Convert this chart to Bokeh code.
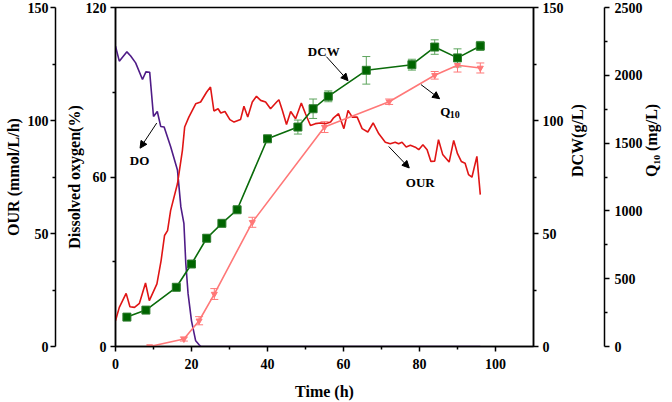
import math

from bokeh.plotting import figure
from bokeh.models import (Range1d, LinearAxis, FixedTicker, Arrow, NormalHead,
                          Label, Whisker, ColumnDataSource, TeeHead)
from bokeh.embed import file_html
from bokeh.resources import INLINE

# Oxygen uptake rate (mmol/L/h)
our_t = [0, 1.0, 2.8, 3.8, 5.0, 6.3, 7.9, 8.9, 10.9, 12.0, 12.9, 13.7, 14.5, 16.3,
         17.6, 18.2, 19.3, 21.1, 22.4, 24.0, 25.0, 25.9, 27.0, 27.7, 28.8, 30.1,
         31.2, 32.9, 33.8, 34.8, 36.0, 37.1, 38.2, 39.5, 40.8, 42.4, 43.0, 43.9,
         45.0, 46.1, 47.4, 48.9, 50.0, 51.3, 52.6, 53.9, 55.3, 56.6, 57.4, 58.7,
         60.1, 61.2, 62.3, 63.6, 64.9, 66.4, 67.8, 69.3, 71.0, 72.3, 73.6, 74.5,
         75.4, 76.5, 77.6, 78.9, 79.8, 80.9, 82.0, 83.0, 84.0, 85.0, 86.1, 87.8,
         89.0, 90.0, 91.0, 92.0, 92.9, 93.8, 95.1, 96.0]
our_v = [11.4, 17.3, 23.5, 17.6, 17.3, 19.1, 28.1, 20.3, 27.7, 38.0, 49.1, 51.3, 60.1, 72.0,
         86.7, 97.1, 101.5, 107.4, 108.2, 112.6, 114.8, 104.2, 105.2, 103.3, 104.0, 100.4,
         99.3, 100.4, 106.3, 101.5, 108.2, 110.7, 108.9, 108.2, 105.2, 108.2, 109.2, 104.5,
         98.2, 104.0, 100.8, 107.7, 103.0, 97.8, 98.6, 98.9, 98.6, 99.3, 101.2, 103.0,
         96.4, 104.5, 101.5, 101.5, 96.4, 94.9, 98.9, 94.1, 90.4, 89.7, 90.4, 89.7,
         90.4, 88.3, 89.0, 88.2, 87.1, 89.3, 87.1, 81.9, 82.0, 91.5, 85.0, 81.6,
         91.2, 85.3, 81.9, 81.1, 76.1, 74.9, 84.1, 67.2]

# Dissolved oxygen (%)
do_t = [0, 1.0, 3.0, 4.0, 5.3, 7.1, 8.0, 9.0, 10.0, 11.0, 11.9, 12.8, 14.5, 16.3,
        17.2, 18.0, 18.5, 19.1, 20.0, 21.1, 22.0, 22.5, 96.0]
do_v = [106.3, 101.0, 104.3, 102.8, 100.4, 94.5, 97.2, 97.1, 81.4, 83.2, 77.9, 77.7,
        70.8, 62.5, 49.4, 43.6, 29.4, 18.7, 9.1, 2.0, 0.6, 0.0, 0.0]

# Dry cell weight (g/L)
dcw_t = [3, 8, 16, 20, 24, 28, 32, 40, 48, 52, 56, 66, 78, 84, 90, 96]
dcw_v = [13.0, 16.1, 26.2, 36.5, 47.9, 54.5, 60.5, 91.9, 97.1, 105.2, 110.7, 122.2,
         124.7, 132.5, 127.7, 133.0]
dcw_err = [0.8, 0.8, 0.8, 0.8, 1.5, 1.0, 1.0, 1.0, 3.1, 4.3, 2.4, 6.1, 2.4, 3.2, 4.0, 2.0]

# Q10 titre (mg/L)
q_t = [9, 18, 22, 26, 36, 55, 72, 84, 90, 96]
q_v = [0, 55, 190, 387, 916, 1618, 1805, 2000, 2074, 2054]
q_err = [0, 15, 30, 40, 37, 40, 20, 28, 50, 37]

FONT = "Liberation Serif"
TICK_SIZE = "14px"
TITLE_SIZE = "16px"

C_OUR = "#E01515"
C_DO = "#4F1C87"
C_DCW = "#0A6B0A"
C_Q10 = "#FF7878"

p = figure(width=672, height=402, output_backend="svg", toolbar_location=None,
           x_range=Range1d(0, 110), y_range=Range1d(0, 120),
           min_border_left=115, min_border_right=139, min_border_top=7,
           min_border_bottom=56)
p.extra_y_ranges = {"our": Range1d(0, 150), "dcw": Range1d(0, 150),
                    "q10": Range1d(0, 2500)}
p.xgrid.visible = False
p.ygrid.visible = False
p.outline_line_color = "black"
p.outline_line_width = 1.5
p.background_fill_color = "white"
p.border_fill_color = "white"


def style(ax, ticks, minor, label, lab_stand, title_stand):
    ax.ticker = FixedTicker(ticks=ticks, minor_ticks=minor)
    ax.axis_label = label
    ax.axis_line_width = 1.5
    ax.axis_line_color = "black"
    ax.major_tick_line_width = 1.5
    ax.minor_tick_line_width = 1.5
    ax.major_tick_out = 5
    ax.major_tick_in = 0
    ax.minor_tick_out = 3
    ax.minor_tick_in = 0
    ax.major_label_text_font = FONT
    ax.major_label_text_font_style = "bold"
    ax.major_label_text_font_size = TICK_SIZE
    ax.major_label_text_color = "black"
    ax.major_label_standoff = lab_stand
    ax.axis_label_text_font = FONT
    ax.axis_label_text_font_style = "bold"
    ax.axis_label_text_font_size = TITLE_SIZE
    ax.axis_label_text_color = "black"
    ax.axis_label_standoff = title_stand


def spacer(rng, width):
    return LinearAxis(y_range_name=rng, ticker=FixedTicker(ticks=[]),
                      axis_line_color=None, major_tick_out=0, major_tick_in=0,
                      minor_tick_out=0, minor_tick_in=0, major_label_standoff=0,
                      major_label_text_font_size="1px", axis_label=" ",
                      axis_label_text_font_size="1px", axis_label_standoff=width)


# x axis
style(p.xaxis[0], [0, 20, 40, 60, 80, 100], [10, 30, 50, 70, 90], "Time (h)", 7, 11)

# inner left: dissolved oxygen
style(p.yaxis[0], [0, 60, 120], [30, 90], "Dissolved oxygen(%)", 4, 0)

# outer left: OUR
p.add_layout(spacer("our", 3), "left")
our_ax = LinearAxis(y_range_name="our")
style(our_ax, [0, 50, 100, 150], [25, 75, 125], "OUR (mmol/L/h)", 2, 3)
p.add_layout(our_ax, "left")

# inner right: DCW
dcw_ax = LinearAxis(y_range_name="dcw")
style(dcw_ax, [0, 50, 100, 150], [25, 75, 125], "DCW(g/L)", 4, 11)
dcw_ax.axis_label_orientation = math.pi / 2
p.add_layout(dcw_ax, "right")
p.add_layout(spacer("dcw", 3), "right")

# outer right: Q10
q_ax = LinearAxis(y_range_name="q10")
style(q_ax, [0, 500, 1000, 1500, 2000, 2500],
      [250, 750, 1250, 1750, 2250], "Q\u2081\u2080 (mg/L)", 5, 6)
q_ax.axis_label_orientation = math.pi / 2
p.add_layout(q_ax, "right")

# series
p.line(do_t, do_v, line_color=C_DO, line_width=1.6)
p.line(our_t, our_v, line_color=C_OUR, line_width=1.6, y_range_name="our")

q_src = ColumnDataSource(dict(t=q_t, v=q_v,
                              lo=[v - e for v, e in zip(q_v, q_err)],
                              hi=[v + e for v, e in zip(q_v, q_err)]))
p.add_layout(Whisker(source=q_src, base="t", lower="lo", upper="hi",
                     y_range_name="q10", line_color=C_Q10, line_width=1,
                     upper_head=TeeHead(size=8, line_color=C_Q10, line_width=1),
                     lower_head=TeeHead(size=8, line_color=C_Q10, line_width=1)))
p.line("t", "v", source=q_src, line_color=C_Q10, line_width=1.6, y_range_name="q10")
p.scatter("t", "v", source=q_src, marker="inverted_triangle", size=6,
          fill_color=C_Q10, line_color=C_Q10, y_range_name="q10")

dcw_src = ColumnDataSource(dict(t=dcw_t, v=dcw_v,
                                lo=[v - e for v, e in zip(dcw_v, dcw_err)],
                                hi=[v + e for v, e in zip(dcw_v, dcw_err)]))
p.add_layout(Whisker(source=dcw_src, base="t", lower="lo", upper="hi",
                     y_range_name="dcw", line_color="#5DA55D", line_width=1,
                     upper_head=TeeHead(size=8, line_color="#5DA55D", line_width=1),
                     lower_head=TeeHead(size=8, line_color="#5DA55D", line_width=1)))
p.line("t", "v", source=dcw_src, line_color=C_DCW, line_width=1.6, y_range_name="dcw")
p.scatter("t", "v", source=dcw_src, marker="square", size=8,
          fill_color="#006400", line_color="#2E7D2E", y_range_name="dcw")


# callouts
def note(x, y, text, size="13px", align="center"):
    p.add_layout(Label(x=x, y=y, text=text, text_font=FONT, text_font_style="bold",
                       text_font_size=size, text_color="black", text_align=align,
                       text_baseline="alphabetic"))


def pointer(x0, y0, x1, y1):
    p.add_layout(Arrow(x_start=x0, y_start=y0, x_end=x1, y_end=y1,
                       line_color="black", line_width=1,
                       end=NormalHead(size=7, fill_color="black", line_color="black")))


pointer(10.85, 79.1, 6.46, 70.2)
note(6.33, 65.8, "DO")
pointer(55.5, 102.6, 61.2, 94.1)
note(54.8, 104.6, "DCW")
pointer(80.4, 92.7, 85.3, 87.7)
note(85.47, 83.1, "Q", align="left")
note(87.97, 82.2, "10", size="10px", align="left")
pointer(71.9, 70.8, 77.3, 63.2)
note(80.2, 58.1, "OUR")

open("out.html", "w").write(file_html(p, INLINE))
